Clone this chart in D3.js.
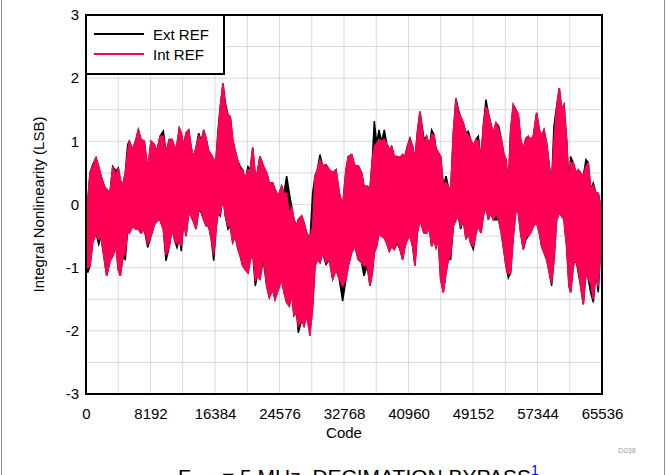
<!DOCTYPE html>
<html lang="en">
<head>
<meta charset="UTF-8">
<title>INL vs Code</title>
<script src="https://d3js.org/d3.v7.min.js"></script>
<style>
  body { margin: 0; background: #fff; }
  text { font-family: "Liberation Sans", Arial, sans-serif; }
</style>
</head>
<body>
<script>
const codes = [0, 216, 508, 851, 1270, 1613, 1905, 2324, 2629, 3048,
  3391, 3810, 4102, 4356, 4661, 4991, 5296, 5499, 5931, 6350,
  6642, 6985, 7404, 7836, 8255, 8674, 9017, 9398, 9817, 10160,
  10579, 10922, 11341, 11557, 11849, 12103, 12408, 12700, 13043, 13335,
  13627, 13970, 14313, 14643, 14948, 15278, 15583, 15913, 16218, 16510,
  16764, 17056, 17399, 17691, 18034, 18326, 18631, 18961, 19304, 19596,
  19901, 20231, 20574, 20866, 21171, 21501, 21755,
  22098, 22521, 22945, 23283, 23706, 24003, 24426, 24849, 25146, 25484,
  25823, 26119, 26416, 26754, 26966, 27389, 27685, 28024, 28447, 28786,
  29082, 29379, 29718, 30056, 30479, 30903, 31326, 31749, 32172, 32595,
  33019, 33315, 33739, 34162, 34585, 35008, 35305, 35728, 36067, 36363,
  36617, 36913, 37210, 37549, 37887, 38183, 38522, 38818, 39157, 39538,
  39877, 40215, 40511, 40808, 41146, 41485, 41781, 42078,
  42418, 42926, 43265, 43603, 43900, 44196, 44450, 44746, 45042, 45381,
  45720, 46016, 46312, 46651, 46990, 47286, 47582, 47921, 48260, 48556,
  48852, 49191, 49529, 49826, 50165, 50461, 50800, 51096, 51392, 51731,
  52070, 52408, 52747, 53085, 53339, 53636, 53932, 54271, 54609, 54906,
  55202, 55541, 55879, 56176, 56472, 56811, 57234, 57573, 57869, 58165,
  58504, 58843, 59139, 59435, 59774, 60113, 60409, 60705, 61044, 61340,
  61552, 61890, 62229, 62525, 62822, 63160, 63499, 63795, 64091, 64430,
  64769, 65065, 65278, 65535];

// Int REF: upper / lower edge of the noise band (LSB)
const intTop = [0.10, 0.03, 0.50, 0.60, 0.74, 0.60, 0.45, 0.29, 0.24, 0.18,
  0.60, 0.45, 0.58, 0.39, 0.29, 0.50, 0.85, 1.00, 0.87, 1.03,
  1.18, 1.03, 1.00, 0.55, 1.00, 0.95, 0.84, 1.08, 1.08, 0.82,
  1.03, 1.03, 0.87, 0.95, 1.21, 1.13, 0.92, 1.13, 1.18, 0.92,
  0.74, 0.90, 1.08, 1.00, 1.18, 1.03, 0.84, 0.79, 0.71, 0.71,
  1.10, 1.55, 1.92, 1.55, 1.42, 1.39, 1.03, 0.84, 0.68, 0.55,
  0.55, 0.39, 0.55, 0.55, 0.90, 0.45, 0.50,
  0.76, 0.61, 0.50, 0.34, 0.34, 0.24, 0.13, 0.29, 0.18, 0.18,
  -0.18, -0.03, -0.24, -0.34, -0.24, -0.18, -0.29, -0.45, -0.55, -0.34,
  0.45, 0.55, 0.71, 0.61, 0.63, 0.55, 0.50, 0.55, 0.18, -0.03,
  0.55, 0.76, 0.79, 0.61, 0.61, 0.50, 0.29, 0.29, 0.24, 0.71,
  0.92, 0.97, 1.03, 1.00, 1.03, 0.97, 0.87, 0.92, 0.76, 0.76,
  0.74, 0.79, 0.76, 0.92, 1.03, 0.92, 0.71, 1.13,
  1.47, 0.95, 1.08, 0.92, 1.11, 1.11, 0.87, 0.82, 0.76, 0.29,
  0.35, 0.29, 0.18, 1.13, 1.68, 1.45, 1.39, 1.29, 1.13, 1.10,
  1.03, 0.92, 1.03, 1.00, 0.71, 1.24, 1.55, 1.45, 1.29, 1.13,
  1.29, 1.18, 1.03, 0.79, 0.71, 0.29, 1.18, 1.58, 1.50, 1.42,
  1.03, 0.87, 1.05, 1.08, 1.03, 1.08, 1.45, 1.18, 1.08, 1.18,
  0.97, 0.61, 0.34, 1.00, 1.55, 1.84, 1.50, 1.58, 1.03, 0.29,
  0.66, 0.66, 0.50, 0.55, 0.50, 0.45, 0.60, 0.66, 0.24, 0.30,
  0.18, 0.18, 0.03, 0.03];
const intBot = [-0.40, -1.00, -0.97, -0.60, -0.45, -0.55, -0.50, -0.87, -1.13, -0.89,
  -0.82, -0.66, -1.03, -1.13, -0.84, -0.75, -0.39, -0.45, -0.34, -0.39,
  -0.39, -0.45, -0.39, -0.62, -0.50, -0.32, -0.26, -0.24, -0.39, -0.80,
  -0.66, -0.39, -0.60, -0.62, -0.53, -0.66, -0.24, -0.50, -0.13, -0.18,
  -0.26, -0.39, -0.08, -0.10, -0.24, -0.34, -0.34, -0.55, -0.80, -0.39,
  -0.13, -0.15, 0.13, -0.18, -0.34, -0.34, -0.60, -0.50, -0.71, -0.82,
  -0.97, -1.03, -1.08, -0.87, -0.76, -1.20, -1.13,
  -1.18, -0.80, -1.29, -1.47, -1.34, -1.50, -1.34, -1.18, -1.39, -1.55,
  -1.61, -1.39, -1.76, -1.71, -1.92, -1.82, -1.92, -1.76, -2.08, -1.61,
  -0.97, -0.87, -0.92, -0.76, -0.92, -0.87, -1.18, -1.03, -1.18, -1.29,
  -1.18, -0.97, -0.76, -0.66, -0.87, -0.92, -0.97, -0.97, -1.29, -1.08,
  -0.76, -0.66, -0.45, -0.50, -0.53, -0.61, -0.74, -0.66, -0.71, -0.55,
  -0.71, -0.87, -0.66, -0.55, -0.50, -0.66, -0.97, -0.45,
  -0.24, -0.45, -0.45, -0.37, -0.66, -0.55, -0.68, -0.55, -1.18, -1.39,
  -1.08, -0.87, -0.80, -0.34, -0.24, -0.18, -0.34, -0.24, -0.55, -0.45,
  -0.61, -0.66, -0.45, -0.34, -0.45, -0.18, -0.03, -0.24, -0.13, -0.24,
  -0.13, -0.24, -0.45, -0.74, -0.97, -1.10, -1.08, -0.50, -0.08, -0.13,
  -0.45, -0.71, -0.50, -0.50, -0.45, -0.34, -0.29, -0.45, -0.66, -0.76,
  -0.87, -1.08, -1.25, -0.87, -0.24, -0.13, -0.18, -0.24, -0.66, -1.29,
  -1.39, -0.97, -0.87, -1.03, -1.29, -1.58, -1.08, -1.18, -1.25, -1.50,
  -1.08, -1.30, -0.87, -0.60];

// Ext REF: mostly under the pink one, pokes out in places
const extTop = [0.10, 0.03, 0.50, 0.63, 0.74, 0.60, 0.45, 0.29, 0.24, 0.18,
  0.60, 0.53, 0.58, 0.39, 0.29, 0.50, 0.95, 1.00, 0.87, 1.03,
  1.18, 1.03, 1.00, 0.55, 1.00, 0.95, 0.84, 1.08, 1.16, 0.82,
  1.03, 1.03, 0.87, 0.95, 1.21, 1.13, 0.92, 1.13, 1.18, 0.92,
  0.74, 0.90, 1.13, 1.00, 1.18, 1.03, 0.84, 0.79, 0.71, 0.71,
  1.16, 1.55, 1.92, 1.61, 1.42, 1.39, 1.03, 0.84, 0.68, 0.60,
  0.55, 0.39, 0.60, 0.55, 0.90, 0.45, 0.50,
  0.76, 0.61, 0.50, 0.34, 0.34, 0.24, 0.13, 0.29, 0.18, 0.45,
  0.18, -0.03, -0.24, -0.34, -0.24, -0.18, -0.29, -0.45, -0.55, 0.18,
  0.45, 0.55, 0.79, 0.61, 0.63, 0.55, 0.50, 0.55, 0.18, -0.03,
  0.55, 0.76, 0.79, 0.61, 0.61, 0.50, 0.29, 0.29, 0.24, 0.71,
  1.32, 0.97, 1.18, 1.00, 1.18, 0.97, 0.87, 0.92, 0.76, 0.76,
  0.74, 0.79, 0.76, 0.92, 1.05, 0.92, 0.71, 1.13,
  1.47, 1.03, 1.08, 0.92, 1.18, 1.11, 0.89, 0.82, 0.76, 0.29,
  0.45, 0.29, 0.18, 1.13, 1.68, 1.50, 1.39, 1.29, 1.13, 1.16,
  1.03, 0.92, 1.03, 1.08, 0.71, 1.24, 1.66, 1.45, 1.29, 1.13,
  1.29, 1.24, 1.03, 0.79, 0.71, 0.29, 1.18, 1.58, 1.50, 1.42,
  1.03, 0.87, 1.05, 1.08, 1.03, 1.08, 1.45, 1.18, 1.08, 1.18,
  0.97, 0.61, 0.34, 1.24, 1.55, 1.84, 1.50, 1.58, 1.03, 0.29,
  0.76, 0.66, 0.50, 0.55, 0.50, 0.45, 0.71, 0.66, 0.24, 0.34,
  0.18, 0.18, 0.03, 0.03];
const extBot = [-0.40, -1.08, -0.97, -0.60, -0.45, -0.63, -0.50, -0.87, -1.13, -0.89,
  -0.82, -0.66, -1.03, -1.13, -0.84, -0.87, -0.39, -0.45, -0.34, -0.39,
  -0.39, -0.45, -0.39, -0.68, -0.50, -0.32, -0.26, -0.24, -0.39, -0.89,
  -0.66, -0.39, -0.60, -0.68, -0.53, -0.74, -0.24, -0.50, -0.13, -0.18,
  -0.26, -0.39, -0.08, -0.13, -0.24, -0.34, -0.34, -0.55, -0.89, -0.39,
  -0.13, -0.18, 0.13, -0.18, -0.39, -0.34, -0.60, -0.50, -0.71, -0.82,
  -0.97, -1.03, -1.08, -0.87, -0.76, -1.29, -1.13,
  -1.18, -0.87, -1.29, -1.47, -1.34, -1.50, -1.34, -1.18, -1.39, -1.55,
  -1.61, -1.39, -1.76, -1.71, -2.03, -1.82, -1.92, -1.76, -2.00, -1.61,
  -0.97, -0.87, -0.92, -0.76, -0.95, -0.87, -1.18, -1.03, -1.18, -1.53,
  -1.18, -0.97, -0.76, -0.66, -0.87, -0.92, -1.13, -0.97, -1.29, -1.08,
  -0.76, -0.66, -0.45, -0.50, -0.53, -0.61, -0.74, -0.66, -0.71, -0.61,
  -0.71, -0.87, -0.66, -0.55, -0.50, -0.66, -0.97, -0.45,
  -0.24, -0.45, -0.45, -0.37, -0.66, -0.55, -0.68, -0.55, -1.18, -1.39,
  -1.08, -0.87, -0.87, -0.34, -0.24, -0.18, -0.39, -0.24, -0.55, -0.45,
  -0.61, -0.71, -0.45, -0.34, -0.45, -0.18, -0.03, -0.24, -0.13, -0.24,
  -0.24, -0.24, -0.45, -0.74, -0.97, -1.16, -1.08, -0.50, -0.08, -0.13,
  -0.45, -0.71, -0.55, -0.50, -0.45, -0.34, -0.29, -0.45, -0.66, -0.76,
  -0.87, -1.08, -1.29, -0.87, -0.24, -0.13, -0.18, -0.24, -0.66, -1.29,
  -1.39, -0.97, -0.87, -1.08, -1.29, -1.58, -1.08, -1.18, -1.39, -1.55,
  -1.08, -1.39, -0.87, -0.60];

const xTicks = [0, 8192, 16384, 24576, 32768, 40960, 49152, 57344, 65536];
const yTicks = [-3, -2, -1, 0, 1, 2, 3];
const seriesNames = ["Ext REF", "Int REF"];
const seriesColors = ["#000000", "#ff0055"];

const W = 666, H = 475;
const margin = {top: 15, right: 64, bottom: 81, left: 86};
const width = W - margin.left - margin.right,
      height = H - margin.top - margin.bottom;

const svg = d3.select("body").append("svg")
    .attr("width", W)
    .attr("height", H);

// page side rules
svg.append("line").attr("x1", 1.5).attr("x2", 1.5).attr("y1", 0).attr("y2", H)
    .attr("stroke", "#8c8c8c").attr("stroke-width", 1);
svg.append("line").attr("x1", 664.5).attr("x2", 664.5).attr("y1", 0).attr("y2", H)
    .attr("stroke", "#8c8c8c").attr("stroke-width", 1);

const g = svg.append("g")
    .attr("transform", "translate(" + margin.left + "," + margin.top + ")");

const x = d3.scaleLinear().domain([0, 65536]).range([0, width]);
const y = d3.scaleLinear().domain([-3, 3]).range([height, 0]);

// grid
g.append("g")
    .selectAll("line")
    .data(d3.range(4096, 65536, 4096))
    .join("line")
    .attr("x1", d => x(d)).attr("x2", d => x(d))
    .attr("y1", 0).attr("y2", height)
    .attr("stroke", "#d9d9d9").attr("stroke-width", 1);
g.append("g")
    .selectAll("line")
    .data(d3.range(-2.5, 3, 0.5))
    .join("line")
    .attr("x1", 0).attr("x2", width)
    .attr("y1", d => y(d)).attr("y2", d => y(d))
    .attr("stroke", "#d9d9d9").attr("stroke-width", 1);

// series bands
const bands = [
  codes.map((c, i) => ({c: c, hi: extTop[i], lo: extBot[i]})),
  codes.map((c, i) => ({c: c, hi: intTop[i], lo: intBot[i]}))
];
const area = d3.area()
    .defined(d => d.hi != null && d.lo != null)
    .x(d => x(d.c))
    .y0(d => y(d.lo))
    .y1(d => y(d.hi));

bands.forEach(function(b, k) {
  g.append("path")
      .datum(b)
      .attr("d", area)
      .attr("fill", seriesColors[k])
      .attr("stroke", seriesColors[k])
      .attr("stroke-width", 1.5)
      .attr("stroke-linejoin", "miter");
});

// axes (labels only, no tick marks)
const fmt = d => String(d);
const xAxis = g.append("g")
    .attr("transform", "translate(0," + height + ")")
    .call(d3.axisBottom(x).tickValues(xTicks).tickSize(0).tickPadding(14).tickFormat(fmt));
const yAxis = g.append("g")
    .call(d3.axisLeft(y).tickValues(yTicks).tickSize(0).tickPadding(7).tickFormat(fmt));
[xAxis, yAxis].forEach(a => {
  a.select(".domain").remove();
  a.selectAll("text").attr("font-size", 15).attr("fill", "#000")
      .attr("font-family", "Liberation Sans, Arial, sans-serif");
});

// frame
g.append("rect")
    .attr("x", 0).attr("y", 0)
    .attr("width", width).attr("height", height)
    .attr("fill", "none").attr("stroke", "#000").attr("stroke-width", 2);

// legend
const lg = g.append("g");
lg.append("rect")
    .attr("x", 0).attr("y", 0).attr("width", 138).attr("height", 59)
    .attr("fill", "#fff").attr("stroke", "#000").attr("stroke-width", 2);
seriesNames.forEach(function(name, i) {
  lg.append("line")
      .attr("x1", 8).attr("x2", 58)
      .attr("y1", 19 + i * 20).attr("y2", 19 + i * 20)
      .attr("stroke", seriesColors[i]).attr("stroke-width", 2);
  lg.append("text")
      .attr("x", 67).attr("y", 24.5 + i * 20)
      .attr("font-size", 15)
      .text(name);
});

// axis titles
g.append("text")
    .attr("x", width / 2).attr("y", height + 44)
    .attr("text-anchor", "middle").attr("font-size", 15)
    .text("Code");
g.append("text")
    .attr("transform", "translate(" + (-42) + "," + (height / 2) + ") rotate(-90)")
    .attr("text-anchor", "middle").attr("font-size", 15)
    .text("Integral Nonlinearity (LSB)");

// figure id
svg.append("text")
    .attr("x", 627).attr("y", 453)
    .attr("text-anchor", "middle").attr("font-size", 7.5)
    .attr("fill", "#a0a0a0")
    .text("D038");

// caption, cut by the bottom edge like in the source page
const cap = svg.append("text")
    .attr("x", 178).attr("y", 484)
    .attr("font-size", 21);
cap.append("tspan").text("F");
cap.append("tspan").attr("font-size", 14).attr("dy", 5).text("S");
cap.append("tspan").attr("x", 222).attr("dy", -5).text("= 5 MHz, DECIMATION BYPASS");
cap.append("tspan").attr("font-size", 14).attr("dy", -9).attr("fill", "#0000ff").text("1");
</script>
</body>
</html>
